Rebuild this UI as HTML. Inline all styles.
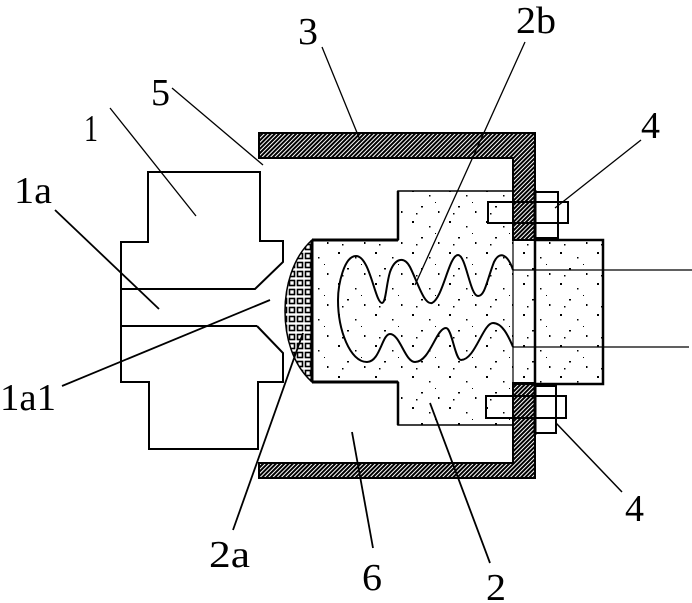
<!DOCTYPE html>
<html><head><meta charset="utf-8"><style>
html,body{margin:0;padding:0;background:#fff;}
svg{display:block;}
text{font-family:"Liberation Serif",serif;font-size:38px;fill:#000;}
</style></head><body>
<svg width="692" height="603" viewBox="0 0 692 603" xmlns="http://www.w3.org/2000/svg">
<defs>
<pattern id="hatch" width="3" height="3" patternUnits="userSpaceOnUse" patternTransform="rotate(45)">
<rect width="3" height="3" fill="#fff"/>
<rect width="2" height="3" fill="#000"/>
</pattern>
<pattern id="sq" width="8" height="9" patternUnits="userSpaceOnUse">
<rect width="8" height="9" fill="#fff"/>
<rect x="1.5" y="1.5" width="5" height="5" fill="none" stroke="#000" stroke-width="1.6"/>
</pattern>
<pattern id="dots" width="37" height="31" patternUnits="userSpaceOnUse">
<rect x="5" y="4" width="2" height="2" fill="#000"/>
<rect x="22" y="9" width="1.5" height="1.5" fill="#000"/>
<rect x="14" y="20" width="2" height="1.5" fill="#000"/>
<rect x="31" y="25" width="1.5" height="2" fill="#000"/>
<rect x="9" y="27" width="1.5" height="1.5" fill="#000"/>
<rect x="28" y="16" width="1" height="1" fill="#000"/>
</pattern>
</defs>

<path d="M259,133 H535 V240 H513 V158 H259 Z" fill="url(#hatch)" stroke="#000" stroke-width="2"/>
<path d="M259,463 H513 V383 H535 V478 H259 Z" fill="url(#hatch)" stroke="#000" stroke-width="2"/>

<path d="M312,240 H398 V191 H513 V240 H603 V384 H513 V425 H398 V382 H312 Z" fill="url(#dots)" stroke="none"/>
<path d="M312,240 H398 V191 H513" fill="none" stroke="#000" stroke-width="1.5"/>
<path d="M312,382 H398 V425 H513" fill="none" stroke="#000" stroke-width="1.5"/>
<path d="M312,240 H398" fill="none" stroke="#000" stroke-width="3"/>
<path d="M312,382 H398" fill="none" stroke="#000" stroke-width="3"/>
<path d="M398,191 V240 M398,382 V425" fill="none" stroke="#000" stroke-width="2.5"/>
<rect x="535" y="240" width="68" height="144" fill="none" stroke="#000" stroke-width="2.5"/>
<line x1="513" y1="240" x2="535" y2="240" stroke="#000" stroke-width="2"/>
<line x1="513" y1="384" x2="535" y2="384" stroke="#000" stroke-width="2"/>
<line x1="513" y1="240" x2="513" y2="384" stroke="#000" stroke-width="1.2"/>
<line x1="535" y1="240" x2="535" y2="384" stroke="#000" stroke-width="2"/>

<rect x="488" y="202" width="80" height="21" fill="none" stroke="#000" stroke-width="2"/>
<rect x="535" y="192" width="23" height="46" fill="none" stroke="#000" stroke-width="2"/>
<rect x="486" y="396" width="80" height="22" fill="none" stroke="#000" stroke-width="2"/>
<rect x="535" y="386" width="21" height="47" fill="none" stroke="#000" stroke-width="2"/>
<line x1="535" y1="190" x2="535" y2="240" stroke="#000" stroke-width="3"/>
<line x1="535" y1="384" x2="535" y2="435" stroke="#000" stroke-width="3"/>

<line x1="513" y1="270" x2="692" y2="270" stroke="#000" stroke-width="1.3"/>
<line x1="513" y1="347" x2="689" y2="347" stroke="#000" stroke-width="1.3"/>

<path d="M513,270 C508,255 500,250 494,262 C487,280 485,296 478,296 C470,296 466,255 458,255 C449,255 443,298 432,303 C424,305 418,283 410,267 C404,256 395,258 390,272 C386,285 386,303 382,303 C375,303 370,256 356,256 C344,256 338,285 338,300 C338,330 350,362 367,362 C380,362 382,334 390,334 C400,334 405,362 415,362 C430,362 436,328 446,328 C452,328 455,360 461,360 C475,360 483,323 493,323 C502,323 508,335 513,347" fill="none" stroke="#000" stroke-width="2"/>

<path d="M312,240 C292,258 285,288 285,311 C285,336 292,364 312,382 Z" fill="url(#sq)" stroke="#000" stroke-width="1.5"/>
<line x1="312" y1="240" x2="312" y2="382" stroke="#000" stroke-width="3"/>

<path d="M148,242 V172 H260 V241 H283 V262 L255,289 H121 V242 Z" fill="none" stroke="#000" stroke-width="2"/>
<path d="M121,289 V326 H257" fill="none" stroke="#000" stroke-width="2"/>
<path d="M121,326 V382 H149 V449 H258 V382 H283 V353 L257,326" fill="none" stroke="#000" stroke-width="2"/>
<line x1="121" y1="242" x2="121" y2="382" stroke="#000" stroke-width="1.3"/>
<line x1="260" y1="172" x2="260" y2="241" stroke="#000" stroke-width="1.3"/>

<g stroke="#000" stroke-width="1.3" fill="none">
<line x1="110" y1="108" x2="196" y2="216"/>
<line x1="172" y1="88" x2="263" y2="165"/>
<line x1="322" y1="47" x2="360" y2="140"/>
<line x1="525" y1="42" x2="415" y2="285"/>
<line x1="641" y1="140" x2="555" y2="208"/>
<line x1="55" y1="210" x2="159" y2="309" stroke-width="1.8"/>
<line x1="62" y1="386" x2="270" y2="300" stroke-width="1.8"/>
<line x1="233" y1="530" x2="303" y2="333" stroke-width="1.8"/>
<line x1="373" y1="548" x2="352" y2="432" stroke-width="1.8"/>
<line x1="490" y1="563" x2="430" y2="403" stroke-width="1.8"/>
<line x1="622" y1="492" x2="556" y2="423" stroke-width="1.5"/>
</g>

<text x="84" y="141" textLength="14" lengthAdjust="spacingAndGlyphs">1</text>
<text x="151" y="105" textLength="19" lengthAdjust="spacingAndGlyphs">5</text>
<text x="298" y="44" textLength="20" lengthAdjust="spacingAndGlyphs">3</text>
<text x="516" y="33" textLength="40" lengthAdjust="spacingAndGlyphs">2b</text>
<text x="641" y="138" textLength="19" lengthAdjust="spacingAndGlyphs">4</text>
<text x="14" y="203" textLength="38" lengthAdjust="spacingAndGlyphs">1a</text>
<text x="0" y="410" textLength="56" lengthAdjust="spacingAndGlyphs">1a1</text>
<text x="209" y="567" textLength="41" lengthAdjust="spacingAndGlyphs">2a</text>
<text x="362" y="590" textLength="20" lengthAdjust="spacingAndGlyphs">6</text>
<text x="486" y="600" textLength="20" lengthAdjust="spacingAndGlyphs">2</text>
<text x="625" y="521" textLength="19" lengthAdjust="spacingAndGlyphs">4</text>
</svg>
</body></html>
